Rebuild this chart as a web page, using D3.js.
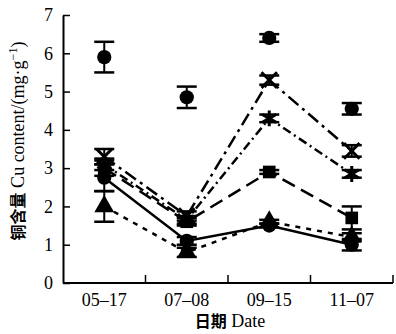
<!DOCTYPE html>
<html>
<head>
<meta charset="utf-8">
<script src="https://cdn.jsdelivr.net/npm/d3@7"></script>
<style>
  body { margin: 0; background: #fff; }
  svg { display: block; }
  text { font-family: "Liberation Serif", "Noto Sans CJK SC", serif; fill: #000; }
</style>
</head>
<body>
<svg id="chart" width="396" height="334"></svg>
<script>
// dates on the x axis
const dates = ["05\u201317", "07\u201308", "09\u201315", "11\u201307"];
const yTicks = [0, 1, 2, 3, 4, 5, 6, 7];

// series values (Cu content, mg/g) and error half-widths
const topCircle = [5.9, 4.85, 6.4, 4.55];
const topCircleErr = [0.4, 0.28, 0.1, 0.15];
const crossVals = [3.3, 1.75, 5.3, 3.45];
const crossErr = [0.2, 0.12, 0.12, 0.15];
const starVals = [3.1, 1.65, 4.3, 2.85];
const starErr = [0.15, 0.1, 0.1, 0.1];
const squareVals = [3.0, 1.6, 2.9, 1.7];
const squareErr = [0.2, 0.1, 0.05, 0.3];
const triVals = [2.0, 0.8, 1.6, 1.2];
const triErr = [0.4, 0.12, 0.05, 0.1];
const lowCircle = [2.75, 1.1, 1.5, 1.0];
const lowCircleErr = [0.35, 0.1, 0.05, 0.15];

const series = [
    { vals: topCircle, err: topCircleErr, marker: "circle", dash: null },
    { vals: crossVals, err: crossErr, marker: "cross", dash: "13,5,3,5" },
    { vals: starVals, err: starErr, marker: "star", dash: "9,4,2,4" },
    { vals: squareVals, err: squareErr, marker: "square", dash: "14,7" },
    { vals: triVals, err: triErr, marker: "triangle", dash: "5,6" },
    { vals: lowCircle, err: lowCircleErr, marker: "circle", dash: "" }
];

const svg = d3.select("svg#chart");
let margin = { top: 15, right: 3, bottom: 51, left: 63 };
let plotWidth = 396 - margin.left - margin.right;
let plotHeight = 334 - margin.top - margin.bottom;

let xScale = d3.scaleBand()
    .domain(dates)
    .range([0, plotWidth]);

let yScale = d3.scaleLinear()
    .domain([0, 7])
    .range([plotHeight, 0]);

let plot = svg.append("g")
    .attr("transform", "translate(" + margin.left + "," + margin.top + ")");

// y axis, ticks pointing inward
let yAxis = d3.axisLeft(yScale)
    .tickValues(yTicks)
    .tickFormat(d3.format("d"))
    .tickSizeInner(-7)
    .tickSizeOuter(0)
    .tickPadding(10);

let yG = plot.append("g").call(yAxis);
yG.select(".domain").attr("stroke", "#000").attr("stroke-width", 2);
yG.selectAll(".tick line").attr("stroke", "#000").attr("stroke-width", 1.5);
yG.selectAll("text").style("font-size", "18px").attr("font-family", "Liberation Serif");

// x axis: line plus inward ticks at band edges
plot.append("line")
    .attr("x1", 0).attr("x2", plotWidth)
    .attr("y1", plotHeight).attr("y2", plotHeight)
    .attr("stroke", "#000").attr("stroke-width", 2);

plot.selectAll("line.xtick")
    .data(dates)
    .enter()
    .append("line")
    .attr("class", "xtick")
    .attr("x1", d => xScale(d) + xScale.bandwidth())
    .attr("x2", d => xScale(d) + xScale.bandwidth())
    .attr("y1", plotHeight)
    .attr("y2", plotHeight - 8)
    .attr("stroke", "#000").attr("stroke-width", 1.5);

plot.selectAll("text.xlab")
    .data(dates)
    .enter()
    .append("text")
    .attr("class", "xlab")
    .attr("x", d => xScale(d) + xScale.bandwidth() / 2)
    .attr("y", plotHeight + 23)
    .attr("text-anchor", "middle")
    .style("font-size", "18px")
    .text(d => d);

// axis titles
svg.append("text")
    .attr("x", margin.left + plotWidth / 2 + 2)
    .attr("y", 327)
    .attr("text-anchor", "middle")
    .style("font-size", "18px")
    .html('<tspan font-family="Noto Sans CJK SC" font-weight="bold" font-size="16px">日期</tspan> Date');

svg.append("text")
    .attr("transform", "translate(24,141) rotate(-90)")
    .attr("text-anchor", "middle")
    .style("font-size", "18px")
    .html('<tspan font-family="Noto Sans CJK SC" font-weight="bold" font-size="16px">铜含量</tspan> Cu content/(mg·g<tspan dy="-7" font-size="12px">−1</tspan><tspan dy="7">)</tspan>');

let cx = d => xScale(d) + xScale.bandwidth() / 2;

// lines
let valueline = d3.line()
    .x((d, i) => cx(dates[i]))
    .y(d => yScale(d));

series.forEach(function(s) {
    if (s.dash === null) return;
    plot.append("path")
        .attr("d", valueline(s.vals))
        .attr("fill", "none")
        .attr("stroke", "#000")
        .attr("stroke-width", 2.5)
        .attr("stroke-dasharray", s.dash);
});

// error bars
series.forEach(function(s) {
    s.vals.forEach(function(v, i) {
        let x = cx(dates[i]);
        let lo = yScale(v - s.err[i]);
        let hi = yScale(v + s.err[i]);
        plot.append("line")
            .attr("x1", x).attr("x2", x).attr("y1", lo).attr("y2", hi)
            .attr("stroke", "#000").attr("stroke-width", 2);
        [lo, hi].forEach(function(y) {
            plot.append("line")
                .attr("x1", x - 10).attr("x2", x + 10).attr("y1", y).attr("y2", y)
                .attr("stroke", "#000").attr("stroke-width", 2.5);
        });
    });
});

// markers
let symbolFor = {
    circle: d3.symbol().type(d3.symbolCircle).size(160),
    square: d3.symbol().type(d3.symbolSquare).size(160),
    triangle: d3.symbol().type(d3.symbolTriangle).size(170),
    cross: d3.symbol().type(d3.symbolTimes).size(160),
    star: d3.symbol().type(d3.symbolAsterisk).size(180)
};

series.forEach(function(s) {
    let stroked = (s.marker === "cross" || s.marker === "star");
    plot.selectAll(null)
        .data(s.vals)
        .enter()
        .append("path")
        .attr("d", symbolFor[s.marker]())
        .attr("transform", (d, i) => "translate(" + cx(dates[i]) + "," + yScale(d) + ")")
        .attr("fill", stroked ? "none" : "#000")
        .attr("stroke", "#000")
        .attr("stroke-width", stroked ? 3 : 0);
});
</script>
</body>
</html>
